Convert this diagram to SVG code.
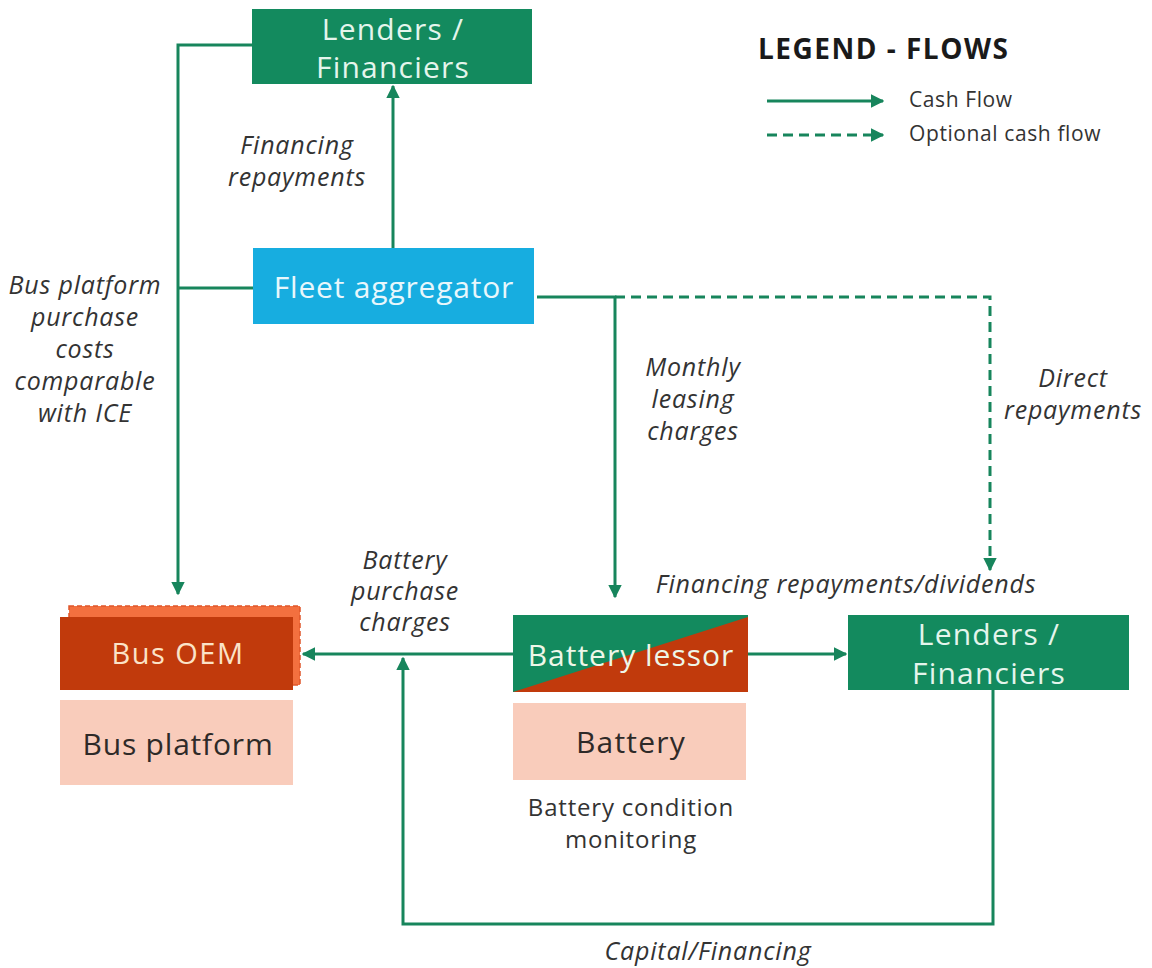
<svg xmlns="http://www.w3.org/2000/svg" width="1152" height="968" viewBox="0 0 1152 968">
<defs>
<style>
.box{font-family:"Open Sans","Liberation Sans",sans-serif;text-anchor:middle}
.lbl{font-family:"Open Sans","Liberation Sans",sans-serif;font-style:italic;font-size:25px;letter-spacing:0.8px;fill:#333;text-anchor:middle}
.ln{stroke:#17855c;stroke-width:3;fill:none}
.dash{stroke-dasharray:10 6}
</style>
<marker id="ah" viewBox="0 0 10 10" refX="9" refY="5" markerWidth="4.5" markerHeight="4.5" orient="auto-start-reverse" markerUnits="strokeWidth">
<path d="M0,0 L10,5 L0,10 Z" fill="#17855c"/>
</marker>
</defs>
<rect width="1152" height="968" fill="#fff"/>

<g id="connectors">
<path class="ln" d="M252,45 H178 V594" marker-end="url(#ah)"/>
<path class="ln" d="M253,288 H178"/>
<path class="ln" d="M393,248 V86" marker-end="url(#ah)"/>
<path class="ln" d="M537,297 H615 V597" marker-end="url(#ah)"/>
<path class="ln dash" d="M615,297 H990 V570" marker-end="url(#ah)"/>
<path class="ln" d="M513,654 H303" marker-end="url(#ah)"/>
<path class="ln" d="M748,654 H846" marker-end="url(#ah)"/>
<path class="ln" d="M993,690 V924 H403 V658" marker-end="url(#ah)"/>
</g>

<g id="lenders-top">
<rect x="252" y="9" width="280" height="75" fill="#138a5e"/>
<text class="box" x="393" y="40" font-size="30" letter-spacing="1.2" fill="#e4f5ec">Lenders /</text>
<text class="box" x="393" y="78" font-size="30" letter-spacing="1.2" fill="#e4f5ec">Financiers</text>
</g>

<g id="fleet-aggregator">
<rect x="253" y="248" width="281" height="76" fill="#17ade0"/>
<text class="box" x="394" y="298" font-size="30" letter-spacing="0.8" fill="#e8f7fc">Fleet aggregator</text>
</g>

<g id="bus-oem">
<rect x="69" y="606" width="231" height="79" fill="#f3703f" stroke="#e0552a" stroke-width="1.5" stroke-dasharray="5 3"/>
<rect x="60" y="617" width="233" height="73" fill="#c13a0c"/>
<text class="box" x="178" y="664" font-size="29" letter-spacing="1.5" fill="#fbe3c8">Bus OEM</text>
</g>

<g id="bus-platform">
<rect x="60" y="700" width="233" height="85" fill="#f9ccbb"/>
<text class="box" x="178" y="755" font-size="30" letter-spacing="0.8" fill="#2e2a28">Bus platform</text>
</g>

<g id="battery-lessor">
<rect x="513" y="615" width="235" height="77" fill="#c13a0c"/>
<polygon points="513,615 748,615 748,617 513,692" fill="#138a5e"/>
<text class="box" x="631" y="666" font-size="30" letter-spacing="1" fill="#eef7e8">Battery lessor</text>
</g>

<g id="battery">
<rect x="513" y="703" width="233" height="77" fill="#f9ccbb"/>
<text class="box" x="631" y="753" font-size="30" letter-spacing="1.2" fill="#2e2a28">Battery</text>
<text class="box" x="631" y="816" font-size="24" letter-spacing="0.8" fill="#333">Battery condition</text>
<text class="box" x="631" y="848" font-size="24" letter-spacing="0.8" fill="#333">monitoring</text>
</g>

<g id="lenders-right">
<rect x="848" y="615" width="281" height="75" fill="#138a5e"/>
<text class="box" x="989" y="645" font-size="30" letter-spacing="1.2" fill="#e4f5ec">Lenders /</text>
<text class="box" x="989" y="684" font-size="30" letter-spacing="1.2" fill="#e4f5ec">Financiers</text>
</g>

<g id="labels">
<text class="lbl" x="297" y="154">Financing</text>
<text class="lbl" x="297" y="186">repayments</text>
<text class="lbl" x="85" y="294">Bus platform</text>
<text class="lbl" x="85" y="326">purchase</text>
<text class="lbl" x="85" y="358">costs</text>
<text class="lbl" x="85" y="390">comparable</text>
<text class="lbl" x="85" y="422">with ICE</text>
<text class="lbl" x="693" y="376">Monthly</text>
<text class="lbl" x="693" y="408">leasing</text>
<text class="lbl" x="693" y="440">charges</text>
<text class="lbl" x="1073" y="387">Direct</text>
<text class="lbl" x="1073" y="419">repayments</text>
<text class="lbl" x="405" y="569">Battery</text>
<text class="lbl" x="405" y="600">purchase</text>
<text class="lbl" x="405" y="631">charges</text>
<text class="lbl" x="846" y="593">Financing repayments/dividends</text>
<text class="lbl" x="708" y="960">Capital/Financing</text>
</g>

<g id="legend">
<text x="758" y="59" font-family="'Open Sans','Liberation Sans',sans-serif" font-weight="bold" font-size="28" letter-spacing="1.5" fill="#1a1a1a">LEGEND - FLOWS</text>
<path class="ln" d="M767,101 H883" marker-end="url(#ah)"/>
<path class="ln dash" d="M767,135 H883" marker-end="url(#ah)"/>
<text x="909" y="107" font-family="'Open Sans','Liberation Sans',sans-serif" font-size="21" letter-spacing="0.6" fill="#333">Cash Flow</text>
<text x="909" y="141" font-family="'Open Sans','Liberation Sans',sans-serif" font-size="21" letter-spacing="0.6" fill="#333">Optional cash flow</text>
</g>
</svg>
